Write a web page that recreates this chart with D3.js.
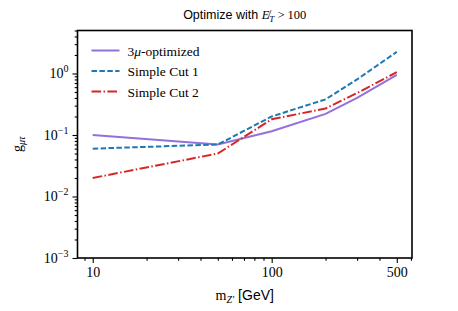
<!DOCTYPE html>
<html>
<head>
<meta charset="utf-8">
<script src="https://cdn.jsdelivr.net/npm/d3@7"></script>
<style>
  body { margin: 0; background: #fff; }
  svg { display: block; }
</style>
</head>
<body>
<figure id="chart" style="margin:0"></figure>
<script>
// masses (GeV) and coupling limits per selection
const masses = [10, 50, 100, 200, 300, 500];
const optimized = [0.1, 0.07, 0.115, 0.22, 0.4, 0.95];
const cut1 = [0.06, 0.07, 0.2, 0.38, 0.8, 2.25];
const cut2 = [0.02, 0.05, 0.18, 0.27, 0.48, 1.05];
const seriesNames = ["optimized", "cut1", "cut2"];
const xTicks = [10, 100, 500];
const yTickExps = [0, -1, -2, -3];

const W = 458, H = 311;
const margin = { left: 77.5, right: 46, top: 30.5, bottom: 53 };
const width = W - margin.left - margin.right;
const height = H - margin.top - margin.bottom;

const styles = {
  optimized: { color: "#9370db", dash: null },
  cut1: { color: "#1f77b4", dash: "5.5,2.4" },
  cut2: { color: "#d62728", dash: "9.6,2.4,1.5,2.4" }
};
const values = { optimized: optimized, cut1: cut1, cut2: cut2 };

const svg = d3.select("#chart")
  .append("svg")
  .attr("width", W)
  .attr("height", H);

const g = svg.append("g")
  .attr("transform", "translate(" + margin.left + "," + margin.top + ")");

// matplotlib-like 5% log margins on x
const x = d3.scaleLog()
  .domain([Math.pow(10, 0.915), Math.pow(10, 2.784)])
  .range([0, width]);

const y = d3.scaleLog()
  .domain([1e-3, 5])
  .range([height, 0]);

const serif = "'Liberation Serif', 'DejaVu Serif', serif";
const sans = "'Liberation Sans', Arial, sans-serif";

// x axis: major + minor ticks
const xMinor = [];
[1, 10, 100].forEach(d => {
  for (let k = 1; k <= 9; k++) {
    const v = d * k;
    if (v >= x.domain()[0] && v <= x.domain()[1] && xTicks.indexOf(v) < 0) xMinor.push(v);
  }
});
const xAxis = g.append("g")
  .attr("transform", "translate(0," + height + ")")
  .call(d3.axisBottom(x).tickValues(xTicks).tickFormat(d3.format("d")).tickSize(5).tickPadding(4));
g.append("g")
  .attr("transform", "translate(0," + height + ")")
  .call(d3.axisBottom(x).tickValues(xMinor).tickFormat("").tickSize(2.8))
  .select(".domain").remove();
xAxis.selectAll("text")
  .style("font-family", serif)
  .style("font-size", "14px")
  .attr("fill", "#000");

// y axis: major + minor ticks with 10^n labels
const yMinor = [];
[1e-3, 1e-2, 1e-1, 1].forEach(d => {
  for (let k = 2; k <= 9; k++) {
    const v = d * k;
    if (v <= y.domain()[1] * 1.0001) yMinor.push(v);
  }
});
const yAxis = g.append("g")
  .call(d3.axisLeft(y).tickValues(yTickExps.map(e => Math.pow(10, e))).tickFormat("").tickSize(5));
g.append("g")
  .call(d3.axisLeft(y).tickValues(yMinor).tickFormat("").tickSize(2.8))
  .select(".domain").remove();

yTickExps.forEach(e => {
  const t = g.append("text")
    .attr("x", -9)
    .attr("y", y(Math.pow(10, e)) + 5)
    .attr("text-anchor", "end")
    .style("font-family", serif)
    .style("font-size", "14px");
  t.append("tspan").text("10");
  t.append("tspan")
    .attr("dy", -6)
    .style("font-size", "10px")
    .text(e === 0 ? "0" : "\u2212" + Math.abs(e));
});

g.selectAll(".tick line").attr("stroke", "#000").attr("stroke-width", 1.1);
g.selectAll(".domain").remove();

// frame
g.append("rect")
  .attr("width", width)
  .attr("height", height)
  .attr("fill", "none")
  .attr("stroke", "#000")
  .attr("stroke-width", 1.6);

// lines
const line = d3.line()
  .x((d, i) => x(masses[i]))
  .y(d => y(d));

seriesNames.forEach(name => {
  g.append("path")
    .datum(values[name])
    .attr("d", line)
    .attr("fill", "none")
    .attr("stroke", styles[name].color)
    .attr("stroke-width", 2)
    .attr("stroke-dasharray", styles[name].dash);
});

// legend
const legendLabels = ["3\u03bc-optimized", "Simple Cut 1", "Simple Cut 2"];
const legend = g.append("g").attr("transform", "translate(14,20)");
seriesNames.forEach((name, i) => {
  const row = legend.append("g").attr("transform", "translate(0," + (i * 20.5) + ")");
  row.append("line")
    .attr("x1", 0).attr("x2", 28)
    .attr("stroke", styles[name].color)
    .attr("stroke-width", 2)
    .attr("stroke-dasharray", styles[name].dash);
  const t = row.append("text")
    .attr("x", 36)
    .attr("y", 5)
    .style("font-family", serif)
    .style("font-size", "13.5px");
  if (i === 0) {
    t.append("tspan").text("3");
    t.append("tspan").style("font-style", "italic").text("\u03bc");
    t.append("tspan").text("-optimized");
  } else {
    t.text(legendLabels[i]);
  }
});

// title
const title = svg.append("text")
  .attr("x", margin.left + width / 2)
  .attr("y", 19)
  .attr("text-anchor", "middle")
  .style("font-size", "12.5px");
title.append("tspan").style("font-family", sans).text("Optimize with ");
title.append("tspan").style("font-family", serif).style("font-style", "italic").text("E\u0338");
title.append("tspan").style("font-family", serif).style("font-style", "italic")
  .style("font-size", "9px").attr("dy", 3).text("T");
title.append("tspan").style("font-family", serif).attr("dy", -3).text(" > 100");

// x label
const xl = svg.append("text")
  .attr("x", margin.left + width / 2)
  .attr("y", 300)
  .attr("text-anchor", "middle")
  .style("font-size", "14px");
xl.append("tspan").style("font-family", serif).text("m");
xl.append("tspan").style("font-family", serif).style("font-style", "italic")
  .style("font-size", "10px").attr("dy", 3).text("Z\u2032");
xl.append("tspan").style("font-family", sans).attr("dy", -3).text(" [GeV]");

// y label
const yl = svg.append("text")
  .attr("transform", "translate(22," + (margin.top + height / 2) + ") rotate(-90)")
  .attr("text-anchor", "middle")
  .style("font-family", serif)
  .style("font-size", "14px");
yl.append("tspan").text("g");
yl.append("tspan").style("font-style", "italic").style("font-size", "10px")
  .attr("dy", 3).text("\u03bc\u03c4");
</script>
</body>
</html>
